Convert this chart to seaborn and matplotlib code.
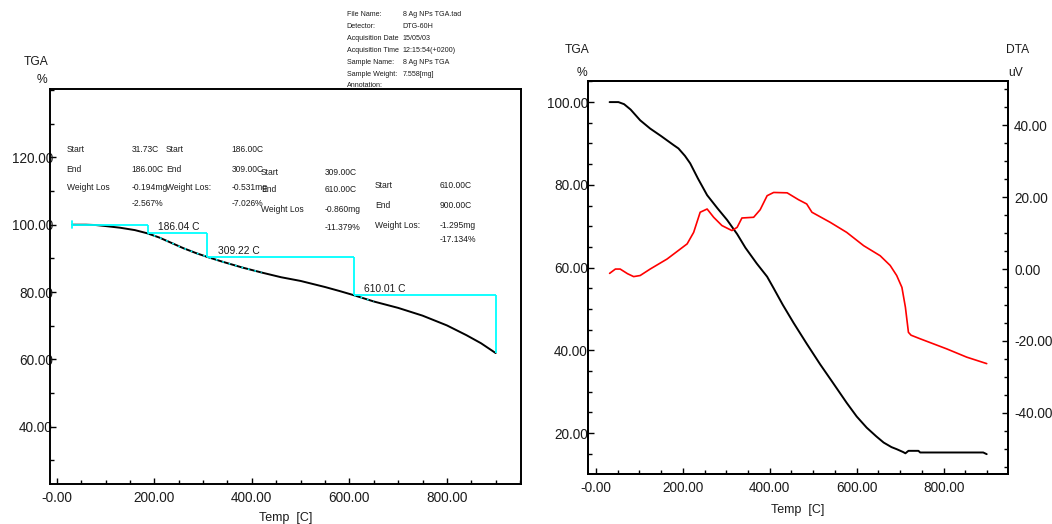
import matplotlib
matplotlib.use("Agg")
import matplotlib.pyplot as plt
from matplotlib import font_manager
from matplotlib.ticker import FixedLocator, FixedFormatter, MultipleLocator
import numpy as np
import pandas as pd
import seaborn as sns

# ---------------------------------------------------------------- data
# TGA run used for the step analysis (left panel)
tga_a_temp = [31.73, 60, 80, 100, 130, 160, 186, 210, 235, 260, 285, 309,
              340, 380, 420, 460, 500, 550, 580, 610, 650, 700, 750, 800,
              840, 870, 900]
tga_a_pct = [100.0, 100.0, 99.9, 99.6, 99.1, 98.4, 97.43, 96.2, 94.6, 93.0,
             91.6, 90.41, 89.0, 87.3, 85.8, 84.4, 83.3, 81.5, 80.3, 79.03,
             77.2, 75.3, 73.0, 70.1, 67.2, 64.8, 61.89]

# step analysis table
step_start = [31.73, 186.00, 309.00, 610.00]
step_end = [186.00, 309.00, 610.00, 900.00]
step_loss_mg = [-0.194, -0.531, -0.860, -1.295]
step_loss_pct = [-2.567, -7.026, -11.379, -17.134]
step_onset = [186.04, 309.22, 610.01]
step_weight_label = ["Weight Los", "Weight Los:", "Weight Los", "Weight Los:"]

# TGA / DTA run (right panel)
tga_b_temp = [31.7, 52, 65, 80, 102, 125, 150, 179, 190, 205, 217, 235, 256,
              280, 302, 325, 344, 370, 394, 409, 430, 455, 485, 516, 545, 577,
              600, 623, 645, 662, 680, 692, 707, 712, 719, 742, 746, 891, 899]
tga_b_pct = [100.0, 100.0, 99.5, 98.2, 95.6, 93.6, 91.8, 89.6, 88.8, 87.0,
             85.2, 81.5, 77.5, 74.3, 71.5, 68.1, 64.8, 61.0, 57.8, 55.0, 51.0,
             46.6, 41.6, 36.6, 32.2, 27.3, 24.0, 21.3, 19.2, 17.7, 16.6, 16.1,
             15.4, 15.1, 15.7, 15.7, 15.3, 15.3, 14.9]

dta_temp = [31.7, 45, 56, 73, 87, 102, 125, 164, 210, 225, 240, 256, 271, 290,
            313, 325, 336, 363, 378, 394, 409, 440, 466, 485, 497, 539, 577,
            616, 654, 677, 692, 704, 712, 719, 725, 746, 807, 853, 899]
dta_uv = [-1.2, 0.0, 0.0, -1.3, -2.1, -1.8, 0.0, 2.8, 7.0, 10.2, 15.8, 16.7,
          14.4, 12.1, 10.7, 11.6, 14.2, 14.4, 16.5, 20.4, 21.3, 21.2, 19.3,
          18.1, 15.8, 13.0, 10.2, 6.5, 3.7, 1.0, -1.8, -5.1, -10.6, -17.6,
          -18.4, -19.4, -22.2, -24.5, -26.3]

# axis ticks
temp_ticks = [0, 200, 400, 600, 800]
temp_tick_labels = ["-0.00", "200.00", "400.00", "600.00", "800.00"]
tga_a_ticks = [40, 60, 80, 100, 120]
tga_a_tick_labels = ["40.00", "60.00", "80.00", "100.00", "120.00"]
tga_b_ticks = [20, 40, 60, 80, 100]
tga_b_tick_labels = ["20.00", "40.00", "60.00", "80.00", "100.00"]
dta_ticks = [-40, -20, 0, 20, 40]
dta_tick_labels = ["-40.00", "-20.00", "0.00", "20.00", "40.00"]

# file header
header_keys = ["File Name:", "Detector:", "Acquisition Date", "Acquisition Time",
               "Sample Name:", "Sample Weight:", "Annotation:"]
header_values = ["8 Ag NPs TGA.tad", "DTG-60H", "15/05/03", "12:15:54(+0200)",
                 "8 Ag NPs TGA", "7.558[mg]", ""]

# ---------------------------------------------------------------- style
sns.set_style("ticks")
names = {f.name for f in font_manager.fontManager.ttflist}
if "Liberation Sans Narrow" in names:
    FONT, K = "Liberation Sans Narrow", 1.0
else:
    FONT, K = "Liberation Sans", 0.82
plt.rcParams["font.family"] = [FONT, "DejaVu Sans"]

INK = "#1c1c1c"
CYAN = "#00ffff"
RED = "#ff0000"

W, H = 1052, 524
fig = plt.figure(figsize=(W / 100, H / 100), dpi=100)


def fx(px):
    return px / W


def fy(py):
    return 1 - py / H


ax1 = fig.add_axes([fx(50), fy(484), (521 - 50) / W, (484 - 89) / H])
ax2 = fig.add_axes([fx(588), fy(474), (1008 - 588) / W, (474 - 81) / H])
ax3 = ax2.twinx()

# ---------------------------------------------------------------- left panel
df_a = pd.DataFrame({"temp": tga_a_temp, "tga": tga_a_pct})
sns.lineplot(data=df_a, x="temp", y="tga", ax=ax1, color="black", lw=1.4,
             estimator=None, sort=False, legend=False, zorder=2)

levels = [100.0]
for pct in step_loss_pct:
    levels.append(levels[-1] + pct)

for i in range(len(step_start)):
    ax1.plot([step_start[i], step_end[i]], [levels[i], levels[i]],
             color=CYAN, lw=1.3, zorder=3, solid_capstyle="butt")
    ax1.plot([step_end[i], step_end[i]], [levels[i], levels[i + 1]],
             color=CYAN, lw=1.3, zorder=3, solid_capstyle="butt")
ax1.plot([step_start[0], step_start[0]], [levels[0] - 1.0, levels[0] + 1.0],
         color=CYAN, lw=1.3, zorder=3)

# cyan trace along the curve over the analysed region
seg = df_a[(df_a.temp >= 186) & (df_a.temp <= 420)]
ax1.plot(seg.temp, seg.tga, color=CYAN, lw=1.2, ls=(0, (1, 3)), zorder=4)
seg = df_a[(df_a.temp >= 600) & (df_a.temp <= 660)]
ax1.plot(seg.temp, seg.tga, color=CYAN, lw=1.2, ls=(0, (1, 3)), zorder=4)

for t, lvl in zip(step_onset, levels[1:]):
    ax1.text(t + 21, lvl + 0.3, f"{t:.2f} C", ha="left", va="bottom",
             fontsize=9 * K, color=INK, zorder=5)

ax1.set_xlim(-14, 952)
ax1.set_ylim(23, 140.3)

# step table
block_x = [(66.7, 131.7), (166, 231.7), (261, 325), (375, 440)]
block_rows = [(150, 169, 188, 204), (150, 169, 188, 204),
              (172.7, 190, 210, 228), (186, 205.7, 225, 240)]
tfs = 7.5 * K
for i in range(4):
    lx, vx = block_x[i]
    r = block_rows[i]
    for key, y in zip(["Start", "End", step_weight_label[i]], r[:3]):
        fig.text(fx(lx), fy(y), key, fontsize=tfs, color=INK, va="center")
    vals = [f"{step_start[i]:.2f}C", f"{step_end[i]:.2f}C",
            f"{step_loss_mg[i]:.3f}mg", f"{step_loss_pct[i]:.3f}%"]
    for v, y in zip(vals, r):
        fig.text(fx(vx), fy(y), v, fontsize=tfs, color=INK, va="center")

# header block
for j, (k, v) in enumerate(zip(header_keys, header_values)):
    y = 15 + j * 11.8
    fig.text(fx(346.7), fy(y), k, fontsize=6.3 * K, color=INK, va="center")
    if v:
        fig.text(fx(402.7), fy(y), v, fontsize=6.3 * K, color=INK, va="center")

# ---------------------------------------------------------------- right panel
df_b = pd.DataFrame({"temp": tga_b_temp, "tga": tga_b_pct})
df_d = pd.DataFrame({"temp": dta_temp, "dta": dta_uv})
sns.lineplot(data=df_b, x="temp", y="tga", ax=ax2, color="black", lw=1.4,
             estimator=None, sort=False, legend=False)
sns.lineplot(data=df_d, x="temp", y="dta", ax=ax3, color=RED, lw=1.2,
             estimator=None, sort=False, legend=False)
ax2.set_xlim(-18, 948)
ax2.set_ylim(10.1, 105.1)
ax3.set_ylim(-57, 52.3)

# ---------------------------------------------------------------- axes cosmetics
tick_fs = 12 * K
for ax in (ax1, ax2, ax3):
    for s in ax.spines.values():
        s.set_color("black")
        s.set_linewidth(1.4)
    ax.set_xlabel("")
    ax.set_ylabel("")

for ax in (ax1, ax2):
    ax.xaxis.set_major_locator(FixedLocator(temp_ticks))
    ax.xaxis.set_major_formatter(FixedFormatter(temp_tick_labels))
    ax.xaxis.set_minor_locator(MultipleLocator(50))
    ax.tick_params(axis="x", which="both", direction="in", bottom=True,
                   top=False, colors="black", labelcolor=INK,
                   labelsize=tick_fs, pad=5)
    ax.tick_params(axis="x", which="major", length=4, width=1)
    ax.tick_params(axis="x", which="minor", length=3, width=1)

ax1.yaxis.set_major_locator(FixedLocator(tga_a_ticks))
ax1.yaxis.set_major_formatter(FixedFormatter(tga_a_tick_labels))
ax1.yaxis.set_minor_locator(MultipleLocator(10))
ax1.tick_params(axis="y", which="both", direction="in", left=True, right=False,
                colors="black", labelcolor=INK, labelsize=tick_fs, pad=-2)

ax2.yaxis.set_major_locator(FixedLocator(tga_b_ticks))
ax2.yaxis.set_major_formatter(FixedFormatter(tga_b_tick_labels))
ax2.yaxis.set_minor_locator(MultipleLocator(5))
ax2.tick_params(axis="y", which="both", direction="in", left=True, right=False,
                colors="black", labelcolor=INK, labelsize=tick_fs, pad=0)

ax3.yaxis.set_major_locator(FixedLocator(dta_ticks))
ax3.yaxis.set_major_formatter(FixedFormatter(dta_tick_labels))
ax3.yaxis.set_minor_locator(MultipleLocator(5))
ax3.tick_params(axis="y", which="both", direction="in", right=True, left=False,
                colors="black", labelcolor=INK, labelsize=tick_fs, pad=4.5)

for ax in (ax1, ax2, ax3):
    ax.tick_params(axis="y", which="major", length=4, width=1)
    ax.tick_params(axis="y", which="minor", length=3, width=1)

# axis titles
lab_fs = 10.5 * K
fig.text(fx(36), fy(62), "TGA", fontsize=lab_fs, color=INK, ha="center", va="center")
fig.text(fx(42), fy(80), "%", fontsize=lab_fs, color=INK, ha="center", va="center")
fig.text(fx(577), fy(50), "TGA", fontsize=lab_fs, color=INK, ha="center", va="center")
fig.text(fx(582), fy(72.7), "%", fontsize=lab_fs, color=INK, ha="center", va="center")
fig.text(fx(1018), fy(50), "DTA", fontsize=lab_fs, color=INK, ha="center", va="center")
fig.text(fx(1016), fy(72.7), "uV", fontsize=lab_fs, color=INK, ha="center", va="center")
fig.text(fx(285.5), fy(518), "Temp  [C]", fontsize=11 * K, color=INK,
         ha="center", va="center")
fig.text(fx(798), fy(510), "Temp  [C]", fontsize=11 * K, color=INK,
         ha="center", va="center")

fig.savefig("out.png", dpi=100)
